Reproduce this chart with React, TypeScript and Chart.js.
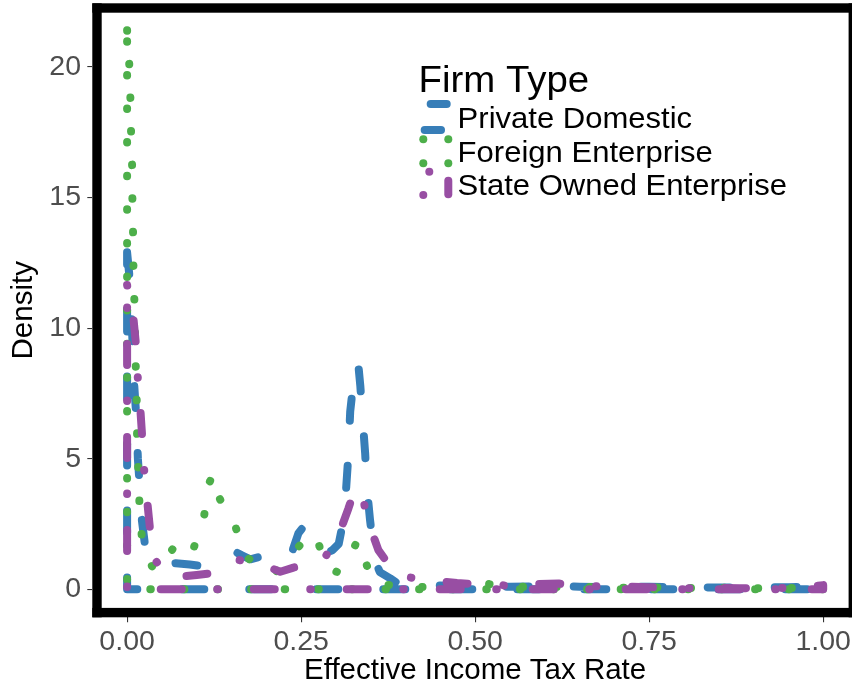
import React, { useEffect, useRef } from "react";
import { Chart, registerables } from "chart.js";

Chart.register(...registerables);

const FONT = '"Liberation Sans", Arial, Helvetica, sans-serif';

const xTicks = [0, 0.25, 0.5, 0.75, 1];
const yTicks = [0, 5, 10, 15, 20];
const seriesNames = ["Private Domestic", "Foreign Enterprise", "State Owned Enterprise"];
const seriesColors = ["#377EB8", "#4DAF4A", "#984EA3"];

// Private Domestic density
const privateX = [0, 0.004, 0.007, 0.01, 0.013, 0.0155, 0.018, 0.021, 0.026, 0.035, 0.05, 0.07, 0.09, 0.113, 0.13, 0.153, 0.165, 0.177, 0.191, 0.21, 0.225, 0.234, 0.246, 0.252, 0.262, 0.273, 0.282, 0.295, 0.304, 0.309, 0.3135, 0.3175, 0.3205, 0.325, 0.329, 0.3325, 0.335, 0.339, 0.342, 0.3445, 0.349, 0.356, 0.363, 0.378, 0.39, 0.41, 0.43, 0.45, 0.47, 0.5, 0.55, 0.6, 0.65, 0.7, 0.75, 0.8, 0.85, 0.9, 0.95, 1.0];
const privateY = [12.9, 11.8, 10.0, 7.9, 6.7, 5.0, 4.0, 2.7, 1.63, 1.1, 0.95, 1.0, 0.95, 0.87, 1.05, 1.47, 1.3, 1.15, 1.25, 1.02, 1.0, 1.19, 2.14, 2.35, 1.9, 1.5, 1.31, 1.5, 1.74, 2.4, 3.4, 5.0, 6.8, 7.9, 8.7, 8.5, 7.8, 6.3, 5.2, 3.9, 2.65, 1.12, 0.66, 0.42, 0.2, 0.12, 0.15, 0.15, 0.12, 0.1, 0.1, 0.12, 0.1, 0.08, 0.1, 0.08, 0.07, 0.08, 0.08, 0.1];

// Foreign Enterprise density
const foreignX = [0, 0.0033, 0.0047, 0.0057, 0.0072, 0.0076, 0.0086, 0.0091, 0.0105, 0.0115, 0.0125, 0.0139, 0.0143, 0.016, 0.0177, 0.021, 0.0355, 0.045, 0.0675, 0.082, 0.0963, 0.1107, 0.118, 0.124, 0.133, 0.155, 0.17, 0.21, 0.24, 0.262, 0.2716, 0.286, 0.302, 0.3195, 0.331, 0.337, 0.3525, 0.37, 0.397, 0.443, 0.48, 0.52, 0.56, 0.6, 0.65, 0.7, 0.75, 0.8, 0.85, 0.9, 0.95, 1.0];
const foreignY = [21.4, 20.0, 18.8, 17.5, 16.2, 14.9, 13.6, 12.3, 11.0, 9.7, 8.46, 7.14, 5.9, 4.6, 3.3, 2.04, 0.89, 0.7, 1.63, 2.05, 1.63, 2.82, 4.08, 4.4, 3.47, 2.45, 1.25, 0.57, 1.43, 2.12, 2.04, 0.83, 0.66, 1.16, 1.9, 1.48, 0.29, 0.18, 0.12, 0.06, 0.15, 0.2, 0.1, 0.08, 0.1, 0.05, 0.08, 0.05, 0.06, 0.04, 0.05, 0.05];

// State Owned Enterprise density
const stateX = [0, 0.005, 0.009, 0.013, 0.0154, 0.019, 0.021, 0.0244, 0.029, 0.033, 0.042, 0.055, 0.076, 0.1, 0.119, 0.135, 0.156, 0.2, 0.22, 0.239, 0.282, 0.304, 0.318, 0.3275, 0.337, 0.347, 0.361, 0.3876, 0.431, 0.45, 0.474, 0.5, 0.52, 0.55, 0.58, 0.62, 0.65, 0.68, 0.72, 0.75, 0.78, 0.82, 0.85, 0.88, 0.92, 0.95, 0.98, 1.0];
const stateY = [11.65, 11.0, 10.4, 9.3, 8.08, 6.9, 6.1, 4.6, 3.35, 2.27, 1.06, 0.6, 0.48, 0.55, 0.61, 0.85, 1.15, 0.89, 0.67, 0.83, 1.12, 2.08, 3.1, 3.86, 3.67, 2.53, 1.5, 0.52, 0.36, 0.3, 0.24, 0.2, 0.22, 0.12, 0.2, 0.22, 0.1, 0.12, 0.1, 0.08, 0.05, 0.04, 0.05, 0.04, 0.06, 0.05, 0.1, 0.16];

const seriesX = [privateX, foreignX, stateX];
const seriesY = [privateY, foreignY, stateY];
const seriesDash = [[22, 45], [0.5, 33.1], [0.5, 35.5, 21, 36]];

// ggplot draws the density as a closed area outline: along the curve, back along the baseline, up to the start
function outline(xs: number[], ys: number[]) {
  const pts = xs.map((x, i) => ({ x, y: ys[i] }));
  pts.push({ x: xs[xs.length - 1], y: 0 }, { x: xs[0], y: 0 }, { x: xs[0], y: ys[0] });
  return pts;
}

function stretchedText(ctx: CanvasRenderingContext2D, text: string, x: number, y: number, size: number, sx: number) {
  ctx.save();
  ctx.translate(x, y);
  ctx.scale(sx, 1);
  ctx.font = `${size}px ${FONT}`;
  ctx.textAlign = "left";
  ctx.textBaseline = "alphabetic";
  ctx.fillText(text, 0, 0);
  ctx.restore();
}

const framePlugin = {
  id: "panelFrame",
  afterDatasetsDraw(chart: any) {
    const { ctx, chartArea: a } = chart;
    const t = 9.4;
    ctx.save();
    ctx.fillStyle = "#000000";
    ctx.fillRect(a.left, a.top, a.right - a.left, t);
    ctx.fillRect(a.left, a.bottom - t, a.right - a.left, t);
    ctx.fillRect(a.left, a.top, t, a.bottom - a.top);
    ctx.fillRect(a.right - t, a.top, t, a.bottom - a.top);
    ctx.restore();
  },
  afterDraw(chart: any) {
    const ctx: CanvasRenderingContext2D = chart.ctx;
    ctx.save();
    ctx.fillStyle = "#000000";
    stretchedText(ctx, "Firm Type", 418.6, 91.7, 36, 1.066);
    const baselines = [128.3, 161.7, 195];
    seriesNames.forEach((n, i) => stretchedText(ctx, n, 457.6, baselines[i], 29, 1.07));

    ctx.lineCap = "round";
    ctx.lineWidth = 8;
    const seg = (c: string, x1: number, y1: number, x2: number, y2: number) => {
      ctx.strokeStyle = c;
      ctx.beginPath();
      ctx.moveTo(x1, y1);
      ctx.lineTo(x2, y2);
      ctx.stroke();
    };
    const dot = (c: string, x: number, y: number) => {
      ctx.fillStyle = c;
      ctx.beginPath();
      ctx.arc(x, y, 4, 0, Math.PI * 2);
      ctx.fill();
    };
    // Private Domestic key (dashed outline)
    seg(seriesColors[0], 430.7, 104, 446.7, 104);
    seg(seriesColors[0], 424.7, 130, 441, 130);
    // Foreign Enterprise key (dotted outline)
    dot(seriesColors[1], 423.3, 139.3);
    dot(seriesColors[1], 448.3, 139.3);
    dot(seriesColors[1], 423.3, 163.3);
    dot(seriesColors[1], 448.3, 163.3);
    // State Owned Enterprise key (dot-dash outline)
    dot(seriesColors[2], 429.3, 171.7);
    seg(seriesColors[2], 448.3, 180.7, 448.3, 194.3);
    dot(seriesColors[2], 423.3, 195);
    ctx.restore();
  },
};

export default function App() {
  const ref = useRef<HTMLCanvasElement>(null);

  useEffect(() => {
    if (!ref.current) return;
    const datasets = seriesNames.map((name, i) => ({
      label: name,
      data: outline(seriesX[i], seriesY[i]),
      showLine: true,
      borderColor: seriesColors[i],
      backgroundColor: seriesColors[i],
      borderWidth: 8,
      borderDash: seriesDash[i],
      borderCapStyle: "round" as const,
      borderJoinStyle: "round" as const,
      pointRadius: 0,
      pointHoverRadius: 0,
      tension: 0,
      fill: false,
      order: 3 - i,
    }));

    const zeroPad = (s: any) => {
      s.paddingTop = 0;
      s.paddingBottom = 0;
      s.paddingLeft = 0;
      s.paddingRight = 0;
    };

    const chart = new Chart(ref.current, {
      type: "scatter",
      data: { datasets },
      plugins: [framePlugin],
      options: {
        responsive: false,
        animation: false,
        events: [],
        layout: { padding: { left: 0, top: 3.3, right: 2, bottom: 0 } },
        plugins: { legend: { display: false }, tooltip: { enabled: false } },
        scales: {
          x: {
            type: "linear",
            min: -0.05,
            max: 1.05,
            afterBuildTicks: (s: any) => {
              s.ticks = xTicks.map((v) => ({ value: v }));
            },
            afterFit: (s: any) => {
              s.height = 68.7;
              zeroPad(s);
            },
            border: { display: false },
            grid: { display: true, drawOnChartArea: false, drawTicks: true, tickLength: 5, color: "#333333", lineWidth: 1.1 },
            ticks: {
              color: "#4D4D4D",
              font: { family: FONT, size: 28.5 },
              padding: 3,
              maxRotation: 0,
              minRotation: 0,
              autoSkip: false,
              callback: (v: any) => Number(v).toFixed(2),
            },
            title: {
              display: true,
              text: "Effective Income Tax Rate",
              color: "#000000",
              font: { family: FONT, size: 29.5, lineHeight: 1 },
              padding: { top: 0, bottom: 0 },
            },
          },
          y: {
            type: "linear",
            min: -1.072,
            max: 22.435,
            afterBuildTicks: (s: any) => {
              s.ticks = yTicks.map((v) => ({ value: v }));
            },
            afterFit: (s: any) => {
              s.width = 92.3;
              zeroPad(s);
            },
            border: { display: false },
            grid: { display: true, drawOnChartArea: false, drawTicks: true, tickLength: 5, color: "#333333", lineWidth: 1.1 },
            ticks: {
              color: "#4D4D4D",
              font: { family: FONT, size: 28.5 },
              padding: 6.3,
              autoSkip: false,
              callback: (v: any) => String(v),
            },
            title: {
              display: true,
              text: "Density",
              color: "#000000",
              font: { family: FONT, size: 29.5, lineHeight: 1 },
              padding: { top: 9.6, bottom: 0 },
            },
          },
        },
      } as any,
    });
    return () => chart.destroy();
  }, []);

  return (
    <div style={{ position: "absolute", left: 0, top: 0, width: 852, height: 686, overflow: "hidden", background: "#ffffff" }}>
      <canvas ref={ref} width={860} height={686} style={{ display: "block" }} />
    </div>
  );
}
